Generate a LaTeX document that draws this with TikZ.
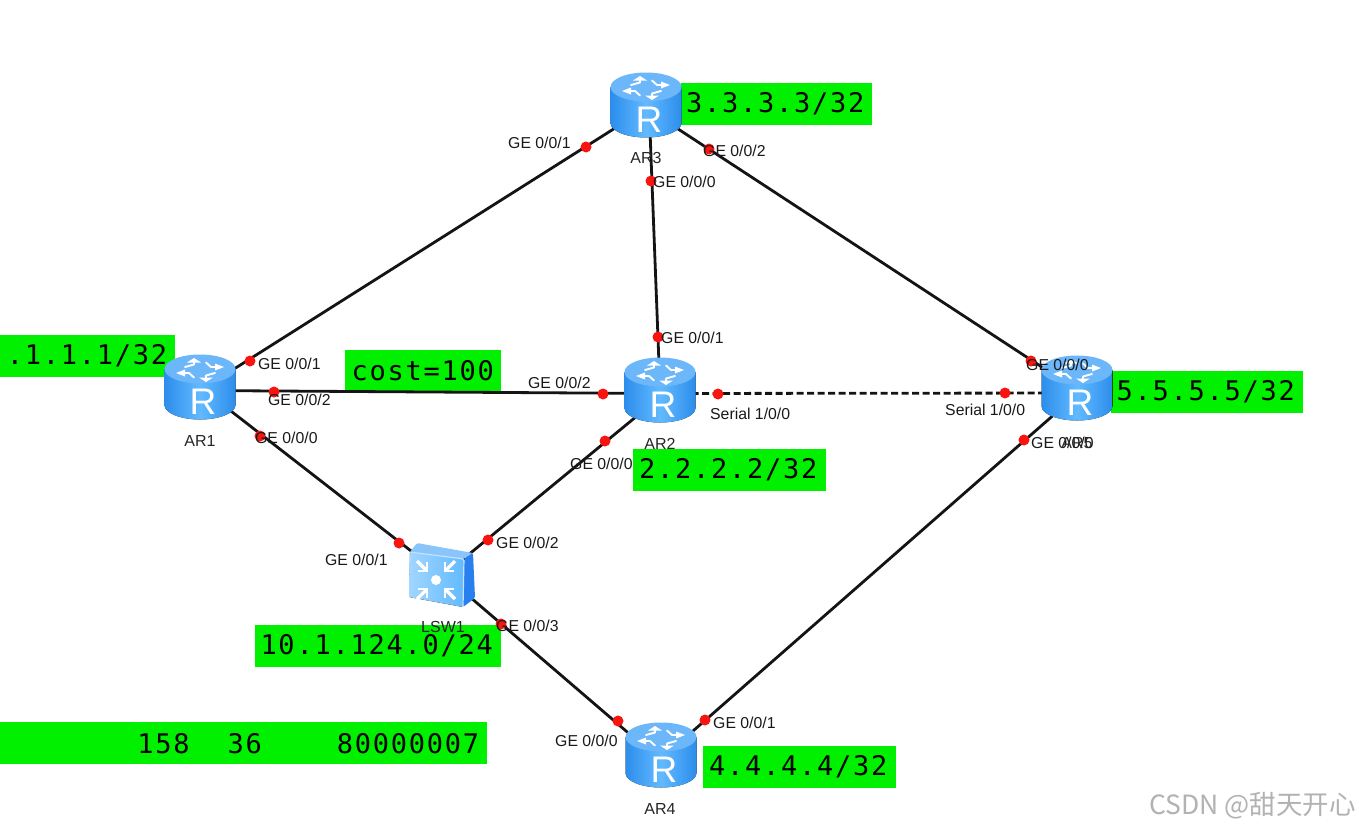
\documentclass[tikz,border=0pt]{standalone}
\usepackage{fontspec}
\setmainfont{Liberation Sans}
\newfontfamily\monof[LetterSpace=6.5]{DejaVu Sans Mono}
\newfontfamily\cjkf{Noto Sans CJK SC}
\definecolor{boxgreen}{HTML}{00F000}
\definecolor{rtop}{HTML}{6CB6FA}
\definecolor{redge}{HTML}{2C8DEB}
\definecolor{rmid}{HTML}{62BAFF}
\definecolor{portred}{HTML}{F8150F}
\tikzset{
  x=1pt,y=-1pt,
  devbox/.style={inner sep=0pt,minimum width=71pt,minimum height=65pt},
  swbox/.style={inner sep=0pt,minimum width=65pt,minimum height=64pt},
  greenbox/.style={fill=boxgreen,inner sep=0pt,font=\monof\fontsize{27}{27}\selectfont,text=black,anchor=north west},
  link/.style={draw=black!92,line width=2.8pt},
  seriallink/.style={link,dash pattern=on 7pt off 3.5pt},
  port/.style={circle,fill=portred,inner sep=0pt,minimum size=11pt},
  portlbl/.style={anchor=west,inner sep=0pt,font=\fontsize{15.8}{16}\selectfont,text=black!90},
  devlbl/.style={inner sep=0pt,font=\fontsize{16}{16}\selectfont,text=black!85},
  rletter/.style={inner sep=0pt,text=white,font=\fontsize{37}{37}\selectfont},
  icon/.style={draw=white,line width=1.9pt,line cap=round,line join=round},
  router/.pic={
    \fill[left color=redge,right color=redge,middle color=rmid]
      (-35.5,-18) -- (-35.5,18) .. controls (-35.5,26) and (-19.6,32.5) .. (0,32.5)
      .. controls (19.6,32.5) and (35.5,26) .. (35.5,18) -- (35.5,-18) -- cycle;
    \fill[rtop] (-35.5,-18) .. controls (-35.5,-26) and (-19.6,-32.5) .. (0,-32.5)
      .. controls (19.6,-32.5) and (35.5,-26) .. (35.5,-18)
      .. controls (35.5,-10) and (19.6,-3.5) .. (0,-3.5)
      .. controls (-19.6,-3.5) and (-35.5,-10) .. (-35.5,-18) -- cycle;
    \foreach \a in {0,90,180,270}{
      \begin{scope}[shift={(0,-17)},yscale=.5,rotate=\a]
        \draw[icon] (6,-15) -- (11,-6) -- (17,-6);
        \fill[white] (24,-6) -- (15,-13) -- (15,1) -- cycle;
      \end{scope}
    }
  },
  switchicon/.pic={
    \fill[rtop!80!white,rounded corners=1.5pt] (-25,-32) -- (31,-22) -- (22,-16) -- (-32,-23) -- cycle;
    \fill[redge!90!blue,rounded corners=1.5pt] (22,-16) -- (31,-22) -- (33,23) -- (21,32) -- cycle;
    \fill[left color=rmid!60!white,right color=rmid,rounded corners=1.5pt] (-32,-23) -- (22,-16) -- (21,32) -- (-33,22) -- cycle;
    \draw[rtop!40!white,line width=1.2pt,rounded corners=1.5pt] (-32,-23) -- (22,-16) -- (21,32);
    \fill[white] (-6,5) circle (5);
    \foreach \a in {0,90,180,270}{
      \begin{scope}[shift={(-6,5)},rotate=\a]
        \draw[white,line width=3.2pt] (19,-19) -- (9,-9);
        \draw[white,line width=2.4pt] (9,-18) -- (9,-9) -- (18,-9);
      \end{scope}
    }
  }
}
\begin{document}
\begin{tikzpicture}
\useasboundingbox[fill=white] (0,0) rectangle (1359,830);

% green annotation boxes
\node[greenbox,minimum width=191pt,minimum height=42pt] (b3) at (681,83) {3.3.3.3/32\hspace*{3pt}};
\node[greenbox,text width=175pt,minimum height=42pt,align=right] (b1) at (0,335) {.1.1.1/32\rule{8pt}{0pt}};
\node[greenbox,minimum width=156pt,minimum height=41pt] (bc) at (345,350) {cost=100\hspace*{1pt}};
\node[greenbox,minimum width=193pt,minimum height=42pt] (b2) at (633,449) {2.2.2.2/32\hspace*{3pt}};
\node[greenbox,minimum width=192pt,minimum height=42pt] (b5) at (1111,371) {5.5.5.5/32\hspace*{3pt}};
\node[greenbox,minimum width=246pt,minimum height=42pt] (bn) at (255,625) {10.1.124.0/24\hspace*{3pt}};
\node[greenbox,minimum width=193pt,minimum height=42pt] (b4) at (703,746) {4.4.4.4/32\hspace*{3pt}};
\node[greenbox,text width=487pt,minimum height=42pt,align=right] (bm) at (0,722) {158\hspace*{38pt}36\hspace*{75pt}80000007\rule{8pt}{0pt}};

% device anchors
\node[devbox] (ar1) at (200,387) {};
\node[devbox] (ar2) at (660,390) {};
\node[devbox] (ar3) at (646,105) {};
\node[devbox] (ar4) at (661,755) {};
\node[devbox] (ar5) at (1077,388) {};
\node[swbox]  (lsw) at (442,575) {};

% links
\draw[link] ([shift={(0,3.5)}]ar1.center) -- ([shift={(0,3.5)}]ar3.center);
\draw[link] ([shift={(0,3.5)}]ar1.center) -- ([shift={(0,3.5)}]ar2.center);
\draw[link] ([shift={(3,0)}]ar3.center) -- (ar2.center);
\draw[link] ([shift={(0,3)}]ar3.center) -- ([shift={(0,2)}]ar5.center);
\draw[seriallink] ([shift={(0,3.5)}]ar2.center) -- ([shift={(0,5)}]ar5.center);
\draw[link] (ar1.center) -- (lsw.center);
\draw[link] ([shift={(0,7)}]ar2.center) -- ([shift={(0,1.5)}]lsw.center);
\draw[link] ([shift={(0,-2)}]lsw.center) -- ([shift={(0,6)}]ar4.center);
\draw[link] ([shift={(0,4)}]ar4.center) -- ([shift={(0,6.5)}]ar5.center);

% device icons
\pic at (ar1) {router};
\pic at (ar2) {router};
\pic at (ar3) {router};
\pic at (ar4) {router};
\pic at (ar5) {router};
\pic at (lsw) {switchicon};
\node[rletter] (r1) at (203,402) {R};
\node[rletter] (r2) at (663,405) {R};
\node[rletter] (r3) at (649,120) {R};
\node[rletter] (r4) at (664,770) {R};
\node[rletter] (r5) at (1080,403) {R};

% ports
\node[port] (p1a) at (250,361) {};
\node[port] (p1b) at (274,392) {};
\node[port] (p1c) at (260,436) {};
\node[port] (p3a) at (586,147) {};
\node[port] (p3b) at (709,149) {};
\node[port] (p3c) at (651,181) {};
\node[port] (p2a) at (658,337) {};
\node[port] (p2b) at (603,394) {};
\node[port] (p2c) at (718,394) {};
\node[port] (p2d) at (605,441) {};
\node[port] (p5a) at (1031,361) {};
\node[port] (p5b) at (1005,393) {};
\node[port] (p5c) at (1024,440) {};
\node[port] (psa) at (399,543) {};
\node[port] (psb) at (488,540) {};
\node[port] (psc) at (501,624) {};
\node[port] (p4a) at (618,721) {};
\node[port] (p4b) at (705,720) {};

% port labels
\node[portlbl] (l1a) at (258,364) {GE 0/0/1};
\node[portlbl] (l1b) at (268,400) {GE 0/0/2};
\node[portlbl] (l1c) at (255,438) {GE 0/0/0};
\node[portlbl] (l3a) at (508,143) {GE 0/0/1};
\node[portlbl] (l3b) at (703,151) {GE 0/0/2};
\node[portlbl] (l3c) at (653,182) {GE 0/0/0};
\node[portlbl] (l2a) at (661,338) {GE 0/0/1};
\node[portlbl] (l2b) at (528,383) {GE 0/0/2};
\node[portlbl] (l2c) at (710,414) {Serial 1/0/0};
\node[portlbl] (l2d) at (570,464) {GE 0/0/0};
\node[portlbl] (l5a) at (1026,365) {GE 0/0/0};
\node[portlbl] (l5b) at (945,410) {Serial 1/0/0};
\node[portlbl] (l5c) at (1031,443) {GE 0/0/0};
\node[portlbl] (lsa) at (325,560) {GE 0/0/1};
\node[portlbl] (lsb) at (496,543) {GE 0/0/2};
\node[portlbl] (lsc) at (496,626) {GE 0/0/3};
\node[portlbl] (l4a) at (555,741) {GE 0/0/0};
\node[portlbl] (l4b) at (713,723) {GE 0/0/1};

% device labels
\node[devlbl] (n1) at (200,441) {AR1};
\node[devlbl] (n2) at (660,444) {AR2};
\node[devlbl] (n3) at (646,158) {AR3};
\node[devlbl] (n4) at (660,809) {AR4};
\node[devlbl] (n5) at (1077,443) {AR5};
\node[devlbl] (ns) at (443,627) {LSW1};

% watermark
\node[inner sep=0pt,anchor=east,text=black!30,font=\cjkf\fontsize{26.5}{26.5}\selectfont] (wm) at (1356,806) {CSDN @甜天开心};
\end{tikzpicture}
\end{document}
